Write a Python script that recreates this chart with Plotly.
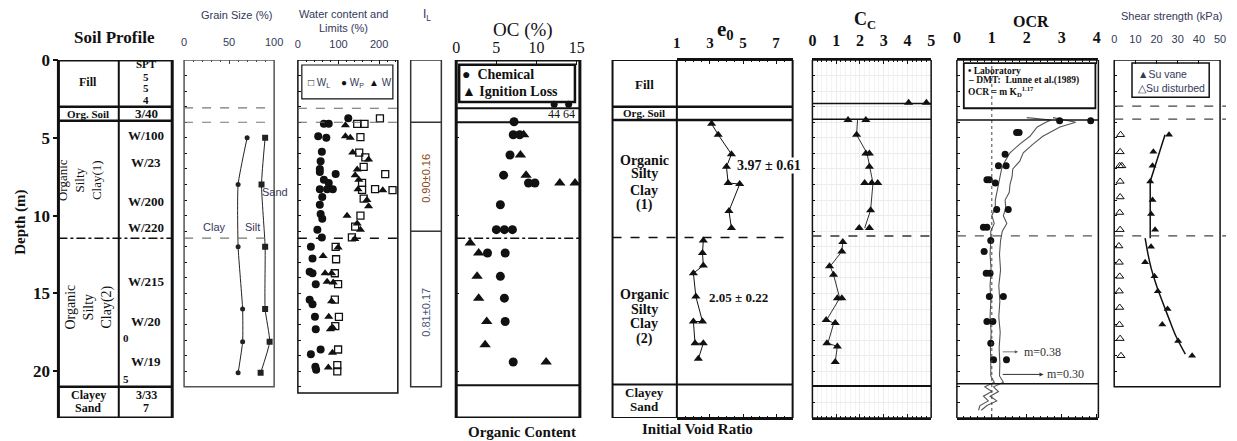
import plotly.graph_objects as go

# ---------------------------------------------------------------- data
# grain size distribution (cumulative %, clay and clay+silt)
grain_depth = [5.0, 8.0, 12.0, 16.0, 18.1, 20.1]
clay_pct = [70, 60, 60, 65, 65, 60]
silt_pct = [90, 86, 90, 90, 95, 85]

# water content and Atterberg limits (%)
wp_depth = [3.75, 4.1, 4.1, 4.9, 5.0, 5.9, 6.5, 7.0, 7.2, 7.33, 7.7, 7.9, 8.3, 8.3, 8.3,
            8.8, 9.3, 9.9, 10.2, 10.9, 11.4, 12.0, 12.75, 13.6, 13.7, 14.4, 15.4, 15.7,
            16.5, 17.3, 18.6, 18.9, 19.7, 19.9]
wp_val = [124, 64, 76, 50, 70, 59, 56, 54, 54, 93, 64, 76, 54, 72, 86,
          60, 54, 56, 60, 48, 59, 32, 36, 29, 36, 44, 29, 36,
          42, 44, 56, 32, 43, 45]
w_depth = [4.2, 4.9, 5.0, 5.95, 6.4, 7.03, 7.4, 7.7, 8.3, 8.36, 9.0, 9.4, 10.0, 10.5,
           10.9, 11.5, 12.05, 12.6, 13.7, 13.7, 14.25, 14.3, 15.5, 16.5, 17.3, 17.2,
           18.8, 19.75]
w_val = [117, 117, 129, 135, 174, 146, 141, 150, 148, 209, 170, 174, 121, 146,
         154, 140, 99, 62, 67, 83, 72, 87, 83, 76, 80, 86, 85, 75]
wl_depth = [3.75, 4.1, 4.1, 4.95, 5.95, 6.26, 6.86, 7.33, 7.9, 8.35, 8.3, 8.36, 8.9,
            10.0, 10.7, 11.4, 12.0, 12.8, 13.7, 14.4, 15.4, 16.5, 17.1, 18.6, 19.6, 20.0]
wl_val = [202, 146, 164, 154, 151, 166, 162, 215, 158, 158, 190, 233, 162,
          154, 141, 133, 93, 94, 91, 99, 91, 101, 92, 99, 97, 97]

# organic content (%)
oc_chem_depth = [3.97, 4.8, 4.8, 6.1, 7.4, 7.9, 7.9, 9.3, 10.9, 10.9, 10.9, 12.4, 12.4,
                 13.9, 15.3, 16.8, 19.4]
oc_chem = [7.2, 7.1, 7.9, 6.7, 5.9, 9.0, 9.8, 5.5, 5.0, 6.0, 7.0, 3.9, 6.1,
           5.5, 6.0, 6.1, 7.1]
oc_ign_depth = [4.8, 6.1, 7.4, 7.9, 7.9, 11.75, 12.4, 13.9, 15.3, 16.8, 18.3, 19.4]
oc_ign = [8.4, 8.0, 8.7, 12.9, 14.8, 1.75, 2.8, 2.6, 2.8, 3.8, 3.6, 11.2]
# organic soil layer: values beyond the scale, plotted against the axis break
oc_org_depth = [2.85, 2.85]
oc_org_break = [12.2, 14.0]
oc_org_text = ["44", "64"]

# initial void ratio
e0_depth = [4.1, 4.8, 6.05, 6.86, 7.9, 7.97, 9.7, 10.8]
e0_val = [3.1, 3.5, 4.3, 4.0, 4.1, 4.8, 4.15, 4.3]
e0_depth2 = [11.6, 12.4, 13.2, 13.7, 15.2, 16.8, 16.8, 18.2, 18.2, 19.2]
e0_val2 = [2.6, 2.55, 2.6, 2.0, 2.15, 2.55, 2.0, 2.1, 2.6, 2.3]

# compression index
cc_depth = [3.86, 3.86, 4.8, 6.0, 6.0, 6.86, 7.9, 7.9, 7.9, 9.65, 10.8, 10.8]
cc_val = [1.5, 2.25, 1.86, 2.25, 2.4, 2.4, 2.2, 2.5, 2.75, 2.45, 1.97, 2.4]
cc_line_depth = [3.86, 4.8, 6.0, 6.86, 7.9, 9.65, 10.8]
cc_line_val = [1.9, 1.86, 2.3, 2.4, 2.55, 2.45, 2.2]
cc_depth2 = [11.7, 12.3, 13.25, 13.8, 15.3, 15.3, 16.7, 16.9, 18.2, 18.4, 19.4]
cc_val2 = [1.28, 1.24, 0.72, 0.89, 1.05, 1.24, 0.58, 0.96, 0.61, 1.05, 0.96]
cc_line_depth2 = [11.7, 12.3, 13.25, 13.8, 15.3, 16.7, 16.9, 18.2, 18.4, 19.4]
cc_line_val2 = [1.28, 1.24, 0.75, 0.89, 1.15, 0.6, 0.9, 0.65, 1.05, 0.96]
cc_org_depth = [2.75, 2.75]
cc_org_val = [4.05, 4.8]

# over-consolidation ratio
ocr_depth = [3.9, 3.9, 4.65, 4.65, 6.05, 6.8, 6.8, 7.7, 7.7, 7.9, 9.6, 9.6, 10.75, 10.75,
             11.6, 12.3, 13.7, 13.7, 15.2, 15.2, 16.8, 16.8, 18.2, 19.25, 19.25]
ocr_val = [2.94, 3.83, 1.71, 1.78, 1.38, 1.19, 1.41, 0.86, 0.93, 1.1, 1.14, 1.47, 0.76, 0.86,
           0.97, 0.78, 0.84, 0.95, 0.93, 1.33, 0.86, 1.03, 0.97, 1.05, 1.42]
dmt_depth = [3.7, 3.85, 4.0, 4.3, 4.9, 5.4, 5.96, 6.5, 7.0, 7.5, 8.0, 8.5, 9.0, 9.5,
             10.0, 10.5, 11.0, 11.6, 12.5, 13.5, 14.5, 15.5, 16.5, 17.5, 18.5, 19.5,
             20.3, 20.7, 21.0, 21.3, 21.6, 21.9, 22.2, 22.5]
dmt_m038 = [2.75, 3.1, 3.4, 2.95, 2.46, 2.18, 1.9, 1.8, 1.6, 1.58, 1.52, 1.5, 1.38, 1.4,
            1.33, 1.43, 1.3, 1.25, 1.22, 1.25, 1.2, 1.23, 1.2, 1.24, 1.21, 1.23,
            1.22, 1.33, 1.05, 1.19, 0.95, 1.14, 0.86, 0.7]
dmt_m030 = [2.0, 2.7, 2.55, 2.3, 2.09, 1.8, 1.52, 1.38, 1.28, 1.24, 1.19, 1.14, 1.1, 1.1,
            1.0, 1.07, 0.97, 0.97, 0.95, 0.98, 0.95, 0.97, 0.95, 0.98, 0.96, 0.97,
            0.97, 1.07, 0.8, 1.0, 0.76, 0.9, 0.66, 0.62]

# undrained shear strength (kPa)
su_vane_depth = [4.8, 5.9, 6.8, 7.8, 9.0, 9.9, 10.9, 12.0, 13.0, 13.9, 14.85, 16.0, 17.0, 18.05, 19.0]
su_vane = [25.9, 18.5, 18.1, 17.0, 18.1, 17.4, 19.3, 17.4, 14.6, 19.0, 20.6, 25.2, 22.7, 30.2, 36.8]
su_dist_depth = [4.8, 5.9, 6.8, 6.8, 7.8, 8.8, 9.8, 10.9, 11.95, 13.0, 13.9, 14.85, 15.9, 17.0, 17.9, 19.0]
su_dist = [3.0, 2.8, 2.6, 3.6, 2.8, 2.8, 2.6, 2.8, 2.2, 2.4, 2.6, 2.4, 2.6, 2.5, 2.8, 3.2]
su_fit_depth = [4.8, 7.8, 11.45]
su_fit = [24.0, 17.0, 17.0]
su_fit_depth2 = [11.45, 12.5, 13.4, 14.5, 15.5, 16.6, 17.7, 18.9]
su_fit2 = [14.6, 16.0, 17.5, 20.0, 22.7, 25.8, 29.0, 33.6]

depth_ticks = [0, 5, 10, 15, 20]

# ---------------------------------------------------------------- layout helpers
W, H = 1237, 441
T_MARGIN, B_MARGIN = 60, 23
DMAX = 23.0
PLOT_H = H - T_MARGIN - B_MARGIN

SERIF = "Liberation Serif"
SANS = "Liberation Sans"
INK = "#111111"
SLATE = "#33395a"


def xp(px):
    return px / W


def yp(py):
    return (H - B_MARGIN - py) / PLOT_H


fig = go.Figure()
shapes = []
notes = []


def rect(x0, x1, d0, d1, width=1.5, color=INK, ref="paper", fill=None):
    shapes.append(dict(type="rect", xref=ref, yref="y", x0=x0, x1=x1, y0=d0, y1=d1,
                       line=dict(color=color, width=width),
                       fillcolor=fill if fill else "rgba(0,0,0,0)", layer="above"))


def hline(x0, x1, d, width=1.5, color=INK, dash="solid", ref="paper"):
    shapes.append(dict(type="line", xref=ref, yref="y", x0=x0, x1=x1, y0=d, y1=d,
                       line=dict(color=color, width=width, dash=dash), layer="above"))


def vline(x, d0, d1, width=1.5, color=INK, dash="solid", ref="paper"):
    shapes.append(dict(type="line", xref=ref, yref="y", x0=x, x1=x, y0=d0, y1=d1,
                       line=dict(color=color, width=width, dash=dash), layer="above"))


def text(x, y, s, size=12, family=SERIF, color=INK, bold=False, yref="y",
         xanchor="center", angle=0, bg=None, xref="paper"):
    notes.append(dict(x=x, y=y, xref=xref, yref=yref, text=s, showarrow=False,
                      xanchor=xanchor, yanchor="middle", textangle=angle,
                      bgcolor=bg, borderpad=0,
                      font=dict(family=family, size=size, color=color,
                                weight="bold" if bold else "normal")))


def scatter(x, y, xa, ya, **kw):
    fig.add_trace(go.Scatter(x=x, y=y, xaxis=xa, yaxis=ya, showlegend=False,
                             hoverinfo="skip", **kw))


# ---------------------------------------------------------------- soil profile column
rect(xp(55), xp(170), 0, DMAX, width=3)
vline(xp(116), 0, DMAX, width=2)
for d in (3.0, 3.9, 21.0):
    hline(xp(55), xp(170), d, width=2.5)
hline(xp(55), xp(170), 11.45, width=1.5, dash="dashdot")

text(xp(85), 1.4, "Fill", 12, bold=True)
text(xp(85), 3.45, "Org. Soil", 11, bold=True)
text(xp(77), 7.7, "Organic<br>Silty<br>Clay(1)", 13, angle=-90)
text(xp(86), 15.9, "Organic<br>Silty<br>Clay(2)", 14, angle=-90)
text(xp(85), 21.5, "Clayey", 12, bold=True)
text(xp(85), 22.35, "Sand", 12, bold=True)
spt_text = ["SPT", "5", "5", "4", "3/40", "W/100", "W/23", "W/200", "W/220",
            "W/215", "W/20", "W/19", "3/33", "7"]
spt_depth = [0.28, 1.08, 1.82, 2.6, 3.43, 4.82, 6.58, 9.1, 10.76,
             14.25, 16.83, 19.4, 21.5, 22.35]
for s, d in zip(spt_text, spt_depth):
    text(xp(144), d, s, 11 if d < 3 else (12 if d > 21 else 13), bold=True)
text(xp(123.5), 17.83, "0", 11, bold=True)
text(xp(123.5), 20.47, "5", 11, bold=True)
text(xp(112), yp(38), "Soil Profile", 17, bold=True, yref="paper")
text(xp(16), yp(222), "Depth (m)", 15, bold=True, yref="paper", angle=-90)

# ---------------------------------------------------------------- grain size
scatter(clay_pct, grain_depth, "x", "y", mode="lines+markers",
        line=dict(color="#222", width=1, shape="spline", smoothing=0.5),
        marker=dict(symbol="circle", size=5, color="#222"))
scatter(silt_pct, grain_depth, "x", "y", mode="lines+markers",
        line=dict(color="#222", width=1, shape="spline", smoothing=0.5),
        marker=dict(symbol="square", size=6, color="#222"))
scatter([], [], "x", "y8")
rect(0, 1, 0, 21.0, width=1.5, color="#555", ref="x domain")
for d in (3.08, 4.0, 11.45):
    hline(0, 1, d, width=1.2, color="#777", dash="dash", ref="x domain")
text(xp(213), 10.75, "Clay", 11, SANS, SLATE)
text(xp(251), 10.75, "Silt", 11, SANS, SLATE)
text(xp(274), 8.5, "Sand", 11, SANS, SLATE)
text(xp(235), yp(15), "Grain Size (%)", 11, SANS, SLATE, yref="paper")

# ---------------------------------------------------------------- water content
scatter(wp_val, wp_depth, "x2", "y2", mode="markers",
        marker=dict(symbol="circle", size=8, color=INK))
scatter(w_val, w_depth, "x2", "y2", mode="markers",
        marker=dict(symbol="triangle-up", size=8, color=INK))
scatter(wl_val, wl_depth, "x2", "y2", mode="markers",
        marker=dict(symbol="square-open", size=7, color=INK, line=dict(width=1.3)))
rect(0, 1, 0, 21.4, width=1.5, ref="x2 domain")
hline(0, 1, 3.1, width=1.2, color="#666", dash="dash", ref="x2 domain")
hline(0, 1, 4.0, width=1.2, color="#666", dash="dash", ref="x2 domain")
hline(0, 1, 11.45, width=1.6, color=INK, dash="dash", ref="x2 domain")
rect(xp(301), xp(393), 0.32, 2.5, width=1.2)
text(xp(318), 1.45, "<span style='color:#111'>□</span> W<sub>L</sub>", 10, SANS, SLATE)
text(xp(352), 1.45, "<span style='color:#111'>●</span> W<sub>P</sub>", 10, SANS, SLATE)
text(xp(381), 1.45, "<span style='color:#111'>▲</span> W", 10, SANS, SLATE)
text(xp(343), yp(14), "Water content and", 11, SANS, SLATE, yref="paper")
text(xp(343), yp(28), "Limits (%)", 11, SANS, SLATE, yref="paper")

# ---------------------------------------------------------------- liquidity index
rect(xp(411), xp(442), 0, 21.0, width=1.5, color="#333")
hline(xp(411), xp(442), 4.0, width=1.5, color="#333")
hline(xp(411), xp(442), 11.0, width=1.5, color="#333")
text(xp(427), 7.6, "0.90±0.16", 11, SANS, "#8a4b22", angle=-90)
text(xp(427), 16.2, "0.81±0.17", 11, SANS, "#4a5577", angle=-90)
text(xp(427), yp(15), "I<sub>L</sub>", 12, SANS, SLATE, yref="paper")

# ---------------------------------------------------------------- organic content
scatter(oc_chem, oc_chem_depth, "x3", "y3", mode="markers",
        marker=dict(symbol="circle", size=9, color=INK))
scatter(oc_ign, oc_ign_depth, "x3", "y3", mode="markers",
        marker=dict(symbol="triangle-up", size=10, color=INK))
scatter(oc_org_break, oc_org_depth, "x3", "y3", mode="markers",
        marker=dict(symbol="circle", size=7, color=INK))
for v, s in zip(oc_org_break, oc_org_text):
    text(v, 3.5, s, 12, xref="x3")
rect(0, 1, 0, DMAX, width=3, ref="x3 domain")
hline(0, 1, 3.1, width=2, ref="x3 domain")
hline(0, 1, 4.0, width=2, ref="x3 domain")
hline(0, 1, 11.45, width=1.5, dash="dashdot", ref="x3 domain")
hline(0, 1, 20.9, width=2, ref="x3 domain")
rect(xp(460), xp(577), 0.3, 2.7, width=2.5)
text(xp(462), 0.95, "●  Chemical", 14, bold=True, xanchor="left")
text(xp(462), 2.05, "▲ Ignition Loss", 14, bold=True, xanchor="left")
text(xp(525), yp(30), "OC (%)", 19, yref="paper")
text(xp(523), yp(432), "Organic Content", 15, bold=True, yref="paper")

# ---------------------------------------------------------------- initial void ratio
scatter(e0_val, e0_depth, "x4", "y4", mode="lines+markers",
        line=dict(color=INK, width=1),
        marker=dict(symbol="triangle-up", size=8, color=INK))
scatter(e0_val2, e0_depth2, "x4", "y4", mode="lines+markers",
        line=dict(color=INK, width=1),
        marker=dict(symbol="triangle-up", size=8, color=INK))
rect(xp(615), xp(797), 0, DMAX, width=2)
vline(xp(680), 0, DMAX, width=2)
hline(xp(615), xp(797), 3.0, width=2.5)
hline(xp(615), xp(797), 3.86, width=2.5)
hline(xp(615), xp(797), 11.4, width=1.5, dash="dash")
hline(xp(615), xp(797), 20.85, width=2)
text(xp(647), 1.6, "Fill", 13, bold=True)
text(xp(647), 3.43, "Org. Soil", 11, bold=True)
for s, d in zip(["Organic", "Silty", "Clay", "(1)"], [6.43, 7.3, 8.4, 9.3]):
    text(xp(647), d, s, 14, bold=True)
for s, d in zip(["Organic", "Silty", "Clay", "(2)"], [15.05, 16.0, 16.9, 17.9]):
    text(xp(647), d, s, 14, bold=True)
text(xp(647), 21.35, "Clayey", 13, bold=True)
text(xp(647), 22.25, "Sand", 13, bold=True)
text(xp(773), 6.8, "3.97 ± 0.61", 14, bold=True, bg="white")
text(xp(742), 15.26, "2.05 ± 0.22", 13, bold=True)
text(xp(729), yp(30), "e<sub>0</sub>", 21, bold=True, yref="paper")
text(xp(701), yp(429), "Initial Void Ratio", 15, bold=True, yref="paper")

# ---------------------------------------------------------------- compression index
scatter(cc_line_val, cc_line_depth, "x5", "y5", mode="lines",
        line=dict(color="#333", width=1))
scatter(cc_line_val2, cc_line_depth2, "x5", "y5", mode="lines",
        line=dict(color="#333", width=1))
scatter(cc_val + cc_val2 + cc_org_val, cc_depth + cc_depth2 + cc_org_depth, "x5", "y5",
        mode="markers", marker=dict(symbol="triangle-up", size=8, color=INK))
rect(0, 1, 0, DMAX, width=1.5, ref="x5 domain")
hline(0, 1, 2.8, width=1.5, ref="x5 domain")
hline(0, 1, 3.8, width=1.5, ref="x5 domain")
hline(0, 1, 11.3, width=1.5, dash="dash", color="#333", ref="x5 domain")
hline(0, 1, 20.95, width=2, ref="x5 domain")
text(xp(870), yp(21), "C<sub>C</sub>", 18, bold=True, yref="paper")

# ---------------------------------------------------------------- OCR
vline(1, 0, DMAX, width=1, color="#444", dash="dot", ref="x6")
scatter(dmt_m038, dmt_depth, "x6", "y6", mode="lines", line=dict(color="#555", width=1.1))
scatter(dmt_m030, dmt_depth, "x6", "y6", mode="lines", line=dict(color="#555", width=1.1))
scatter(ocr_val, ocr_depth, "x6", "y6", mode="markers",
        marker=dict(symbol="circle", size=7, color=INK))
rect(0, 1, 0, DMAX, width=1.5, ref="x6 domain")
hline(0, 1, 3.85, width=1.5, ref="x6 domain")
hline(0, 1, 11.3, width=1.2, dash="dash", color="#555", ref="x6 domain")
hline(0, 1, 20.8, width=1.5, ref="x6 domain")
rect(xp(970), xp(1103), 0.2, 3.1, width=1.8)
text(xp(973), 0.68, "• Laboratory", 9.5, bold=True, xanchor="left")
text(xp(973), 1.33, "– DMT:  Lunne et al.(1989)", 9.5, bold=True, xanchor="left")
text(xp(973), 2.0, "OCR = m K<sub>D</sub><sup>1.17</sup>", 9.5, bold=True, xanchor="left")
notes.append(dict(x=1.75, y=18.75, ax=1.27, ay=18.75, xref="x6", yref="y6",
                  axref="x6", ayref="y6", text="", showarrow=True, arrowhead=2,
                  arrowsize=0.8, arrowwidth=0.8, arrowcolor="#555"))
notes.append(dict(x=2.48, y=20.2, ax=1.27, ay=20.2, xref="x6", yref="y6",
                  axref="x6", ayref="y6", text="", showarrow=True, arrowhead=2,
                  arrowsize=0.8, arrowwidth=1, arrowcolor="#333"))
text(1.9, 18.75, "m=0.38", 12, xanchor="left", xref="x6", color="#333")
text(2.55, 20.2, "m=0.30", 12, xanchor="left", xref="x6", color="#333")
text(xp(1038), yp(22), "OCR", 16, bold=True, yref="paper")

# ---------------------------------------------------------------- shear strength
scatter(su_fit, su_fit_depth, "x7", "y7", mode="lines", line=dict(color=INK, width=1.5))
scatter(su_fit2, su_fit_depth2, "x7", "y7", mode="lines",
        line=dict(color=INK, width=1.5, shape="spline"))
scatter(su_vane, su_vane_depth, "x7", "y7", mode="markers",
        marker=dict(symbol="triangle-up", size=7, color=INK))
scatter(su_dist, su_dist_depth, "x7", "y7", mode="markers",
        marker=dict(symbol="triangle-up-open", size=7, color=INK, line=dict(width=1)))
rect(0, 1, 0, 21.0, width=1.5, ref="x7 domain")
for d in (2.96, 3.8, 11.3):
    hline(xp(1122), xp(1235), d, width=1.2, color="#444", dash="dash")
rect(xp(1140), xp(1218), 0.2, 2.4, width=1.5)
text(xp(1145), 0.9, "▲Su vane", 10.5, SANS, SLATE, xanchor="left")
text(xp(1145), 1.8, "△Su disturbed", 10.5, SANS, SLATE, xanchor="left")
text(xp(1180), yp(16), "Shear strength (kPa)", 11, SANS, SLATE, yref="paper")

# ---------------------------------------------------------------- axes
def top_axis(lo, hi, rng, dtick, minor, font, standoff, tick0=0, mirror=False, grid=False,
             ticklen=4, color=INK):
    ax = dict(domain=[xp(lo), xp(hi)], range=rng, side="top", tickmode="linear",
              tick0=tick0, dtick=dtick, ticks="inside", ticklen=ticklen, tickwidth=1,
              tickcolor=color, tickfont=font, ticklabelstandoff=standoff,
              showgrid=grid, gridcolor="#ececec", zeroline=False, fixedrange=True,
              minor=dict(dtick=minor, ticks="inside", ticklen=2, tickcolor=color,
                         showgrid=grid, gridcolor="#f3f3f3"))
    if mirror:
        ax.update(showline=True, linecolor=INK, linewidth=1.5, mirror="ticks")
    else:
        ax.update(showline=False)
    return ax


def side_axis(anchor, vals, ticks="inside", grid=False):
    return dict(anchor=anchor, domain=[0, 1], range=[DMAX, 0], tickmode="array",
                tickvals=vals, ticks=ticks, ticklen=3, tickcolor=INK,
                showticklabels=False, showline=False, zeroline=False,
                showgrid=grid, gridcolor="#ececec", fixedrange=True)


sans11 = dict(family=SANS, size=11, color=SLATE)
serif_b = dict(family=SERIF, size=15, color=INK, weight="bold")

layout = dict(
    width=W, height=H, margin=dict(l=0, r=0, t=T_MARGIN, b=B_MARGIN, pad=0),
    paper_bgcolor="white", plot_bgcolor="rgba(0,0,0,0)", showlegend=False,
    xaxis=top_axis(182, 273, [0, 100], 50, 10, sans11, 11, color="#444"),
    xaxis2=top_axis(297, 398, [0, 246], 100, 20, sans11, 9),
    xaxis3=top_axis(457, 582, [0, 15.4], 5, 5,
                    dict(family=SERIF, size=16, color=INK), 3, ticklen=5),
    xaxis4=top_axis(680, 797, [1, 8], 2, 0.5, serif_b, 4, tick0=1, mirror=True),
    xaxis5=top_axis(817, 937, [0, 5], 1, 0.2, dict(serif_b, size=16), 6, mirror=True, grid=True),
    xaxis6=top_axis(963, 1106, [0, 4.05], 1, 0.2, dict(serif_b, size=16), 9, mirror=True),
    xaxis7=top_axis(1122, 1229, [0, 50], 10, 10, sans11, 14),
    yaxis=side_axis("x", list(range(1, 21))),
    yaxis2=side_axis("x2", list(range(1, 22))),
    yaxis3=side_axis("x3", [5, 10, 15, 20]),
    yaxis4=side_axis("x4", []),
    yaxis5=side_axis("x5", list(range(1, 23)), grid=True),
    yaxis6=side_axis("x6", list(range(1, 23))),
    yaxis7=side_axis("x7", list(range(1, 21))),
    yaxis8=dict(overlaying="y", anchor="free", position=xp(55), side="left",
                range=[DMAX, 0], tickmode="array", tickvals=depth_ticks,
                ticks="outside", ticklen=5, tickwidth=1.5, tickcolor=INK,
                tickfont=dict(family=SERIF, size=17, color=INK, weight="bold"),
                showline=False, showgrid=False, zeroline=False, fixedrange=True),
    shapes=shapes,
    annotations=notes,
)
fig.update_layout(**layout)

fig.write_html("out.html")
